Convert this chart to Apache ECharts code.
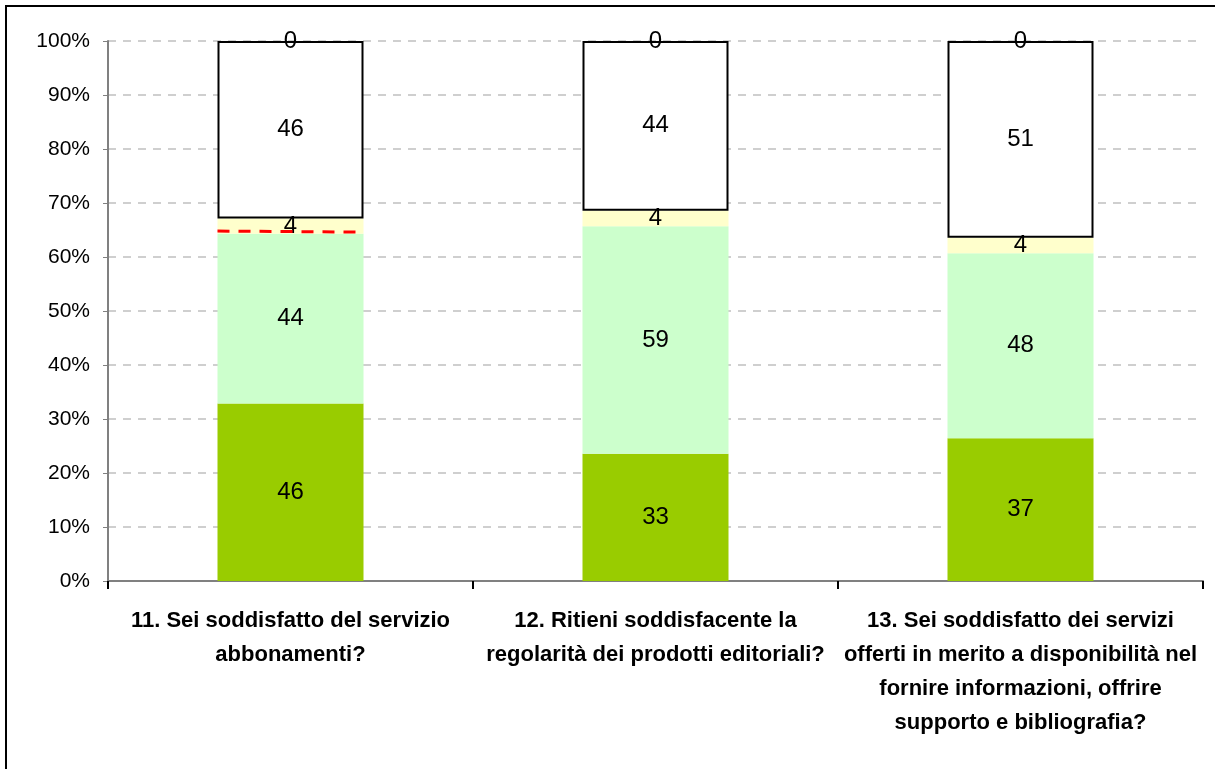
<!DOCTYPE html>
<html>
<head>
<meta charset="utf-8">
<script src="https://cdn.jsdelivr.net/npm/echarts@6/dist/echarts.min.js"></script>
<style>
html, body { margin: 0; padding: 0; background: #fff; }
#chart { width: 1215px; height: 769px; }
</style>
</head>
<body>
<div id="chart"></div>
<script>
// domande (asse x)
var categories = [
    '11. Sei soddisfatto del servizio\nabbonamenti?',
    '12. Ritieni soddisfacente la\nregolarità dei prodotti editoriali?',
    '13. Sei soddisfatto dei servizi\nofferti in merito a disponibilità nel\nfornire informazioni, offrire\nsupporto e bibliografia?'
];
// risposte (conteggi), dal basso verso l'alto
var darkGreen = [46, 33, 37];
var lightGreen = [44, 59, 48];
var yellow = [4, 4, 4];
var white = [46, 44, 51];
var zero = [0, 0, 0];
// linea rossa tratteggiata (solo prima colonna)
var redLine = [64.8, null, null];
var yTicks = [0, 10, 20, 30, 40, 50, 60, 70, 80, 90, 100];

var raw = [darkGreen, lightGreen, yellow, white, zero];
var totals = categories.map(function (c, i) {
    var s = 0;
    raw.forEach(function (arr) { s += arr[i]; });
    return s;
});
function pct(arr) {
    return arr.map(function (v, i) {
        return { value: Math.round(v / totals[i] * 1e6) / 1e4, raw: v };
    });
}

var labelStyle = {
    show: true,
    position: 'inside',
    color: '#000',
    fontFamily: 'Liberation Sans, Arial',
    fontSize: 24,
    formatter: function (p) { return p.data.raw; }
};

function barSeries(arr, color, border) {
    return {
        type: 'bar',
        stack: 'tot',
        barWidth: '40%',
        clip: false,
        data: pct(arr),
        itemStyle: {
            color: color,
            borderColor: border ? '#000' : color,
            borderWidth: border ? 2 : 0
        },
        label: labelStyle,
        emphasis: { disabled: true }
    };
}

var myChart = echarts.init(document.getElementById('chart'));
var option = {
    animation: false,
    grid: { left: 108, right: 12, top: 41, bottom: 188 },
    graphic: [{
        type: 'rect',
        shape: { x: 6, y: 6, width: 1240, height: 800 },
        style: { fill: 'none', stroke: '#000', lineWidth: 2 },
        silent: true
    }],
    xAxis: {
        type: 'category',
        data: categories,
        axisLine: { lineStyle: { color: '#808080', width: 2 } },
        axisTick: { show: true, length: 8, lineStyle: { color: '#000', width: 2 } },
        axisLabel: {
            interval: 0,
            margin: 23,
            color: '#000',
            fontFamily: 'Liberation Sans, Arial',
            fontWeight: 'bold',
            fontSize: 22,
            lineHeight: 34
        }
    },
    yAxis: {
        type: 'value',
        min: yTicks[0],
        max: yTicks[yTicks.length - 1],
        interval: 10,
        axisLine: { show: true, lineStyle: { color: '#808080', width: 2 } },
        axisTick: { show: true, length: 5, lineStyle: { color: '#808080' } },
        axisLabel: {
            formatter: '{value}%',
            margin: 18,
            color: '#000',
            fontFamily: 'Liberation Sans, Arial',
            fontSize: 21
        },
        splitLine: { lineStyle: { color: '#c0c0c0', type: [8, 7], width: 1.5 } }
    },
    series: [
        barSeries(darkGreen, '#99cc00', false),
        barSeries(lightGreen, '#ccffcc', false),
        barSeries(yellow, '#ffffcc', false),
        barSeries(white, '#ffffff', true),
        barSeries(zero, '#ffffff', false),
        {
            type: 'custom',
            data: redLine.map(function (v, i) { return [i, v]; }),
            z: 10,
            renderItem: function (params, api) {
                var v = api.value(1);
                if (v == null || isNaN(v)) return null;
                var c = api.coord([api.value(0), v]);
                var w = api.size([1, 0])[0] * 0.4;
                return {
                    type: 'line',
                    shape: { x1: c[0] - w / 2, y1: c[1], x2: c[0] + w / 2, y2: c[1] + 1 },
                    style: { stroke: '#ff0000', lineWidth: 3, lineDash: [12, 9] }
                };
            }
        }
    ]
};
myChart.setOption(option);
</script>
</body>
</html>
